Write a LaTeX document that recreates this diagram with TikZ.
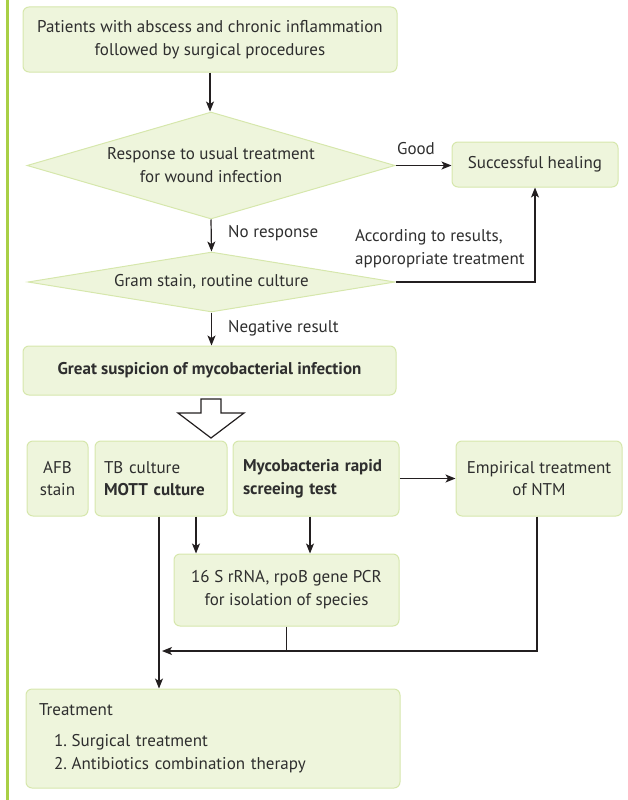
\documentclass[tikz,border=0pt]{standalone}
\usepackage{fontspec}
\setmainfont{PT Sans}
\usetikzlibrary{shapes.geometric,arrows.meta,calc}
\definecolor{boxfill}{HTML}{EEF5DC}
\definecolor{boxline}{HTML}{D6E7AC}
\definecolor{barc}{HTML}{A8CF45}
\definecolor{txt}{HTML}{2E2E2E}
\definecolor{linec}{HTML}{231F20}
\newcommand{\ffont}{\fontsize{17}{22.8}\selectfont}
\begin{document}
\begin{tikzpicture}[x=1pt,y=-1pt,
  box/.style={draw=boxline, fill=boxfill, line width=1pt, rounded corners=6pt, inner sep=0pt, text=txt, align=center, font=\ffont},
  dia/.style={draw=boxline, fill=boxfill, line width=1pt, diamond, inner sep=0pt},
  lbl/.style={text=txt, inner sep=0pt, font=\ffont, align=left},
  arr/.style={draw=linec, line width=1.2pt, -{Stealth[length=10pt,width=8pt,inset=2.5pt]}},
  ln/.style={draw=linec, line width=1.2pt}]
\useasboundingbox (0,0) rectangle (627,800);
\fill[barc] (5.5,0) rectangle (8.5,800);

\node[box, minimum width=374pt, minimum height=65pt] (b1) at (210,39.5) {Patients with abscess and chronic inflammation\\followed by surgical procedures};
\node[dia, minimum width=368pt, minimum height=107pt] (d1) at (211,165.5) {};
\node[lbl, align=center] (t1) at (211,165) {Response to usual treatment\\for wound infection};
\node[box, minimum width=166pt, minimum height=45pt] (succ) at (535,164.5) {Successful healing};
\node[dia, minimum width=367pt, minimum height=60pt] (d2) at (211.5,282) {};
\node[lbl] (t2) at (211.5,282) {Gram stain, routine culture};
\node[box, font=\ffont\bfseries, minimum width=373pt, minimum height=49pt] (b3) at (209.5,370.5) {Great suspicion of mycobacterial infection};

\node[box, minimum width=61pt, minimum height=75pt] (afb) at (57.5,478.5) {AFB\\stain};
\node[box, minimum width=132pt, minimum height=75pt, text width=114pt, align=left] (tb) at (161,478.5) {TB culture\\\textbf{MOTT culture}};
\node[box, minimum width=166pt, minimum height=75pt, text width=146pt, align=left, font=\ffont\bfseries] (rapid) at (316,478.5) {Mycobacteria rapid\\screeing test};
\node[box, minimum width=166pt, minimum height=75pt] (emp) at (539,478.5) {Empirical treatment\\of NTM};
\node[box, minimum width=225pt, minimum height=72pt] (pcr) at (286.5,590) {16 S rRNA, rpoB gene PCR\\for isolation of species};
\node[box, minimum width=374pt, minimum height=99pt, text width=348pt, align=left] (treat) at (213,738.5) {Treatment\\[8pt]\hspace*{15pt}1.\kern-1pt\ Surgical treatment\\\hspace*{15pt}2.\kern-1pt\ Antibiotics combination therapy};

\node[lbl, anchor=center] (good) at (416,149) {Good};
\node[lbl, anchor=west] (nores) at (228,233) {No response};
\node[lbl, anchor=west] (neg) at (228,328) {Negative result};
\node[lbl, anchor=west] (acc) at (355,248.5) {According to results,\\apporopriate treatment};

\draw[arr] (b1.south) -- (b1.south |- d1.north);
\draw[arr] (d1.east) -- (d1.east -| succ.west);
\draw[arr] (d1.south) -- (d2.north);
\draw[arr] (d2.east) -| (succ.south);
\draw[arr] (d2.south) -- (d2.south |- b3.north);
\draw[draw=linec, line width=1.2pt, fill=white] (201,399) -- (221,399) -- (221,413) -- (244,413) -- (211,438) -- (178,413) -- (201,413) -- cycle;
\draw[arr] (rapid.east) -- (emp.west);
\draw[arr] ([xshift=-2pt]tb.south) -- ([xshift=-2pt]tb.south |- treat.north);
\draw[arr] ([xshift=35pt]tb.south) -- ([xshift=35pt]tb.south |- pcr.north);
\draw[arr] ([xshift=-6pt]rapid.south) -- ([xshift=-6pt]rapid.south |- pcr.north);
\coordinate (j) at (162,651);
\draw[arr] ([xshift=-2pt]emp.south) |- (j);
\draw[ln] (pcr.south) -- (pcr.south |- j);
\end{tikzpicture}
\end{document}
